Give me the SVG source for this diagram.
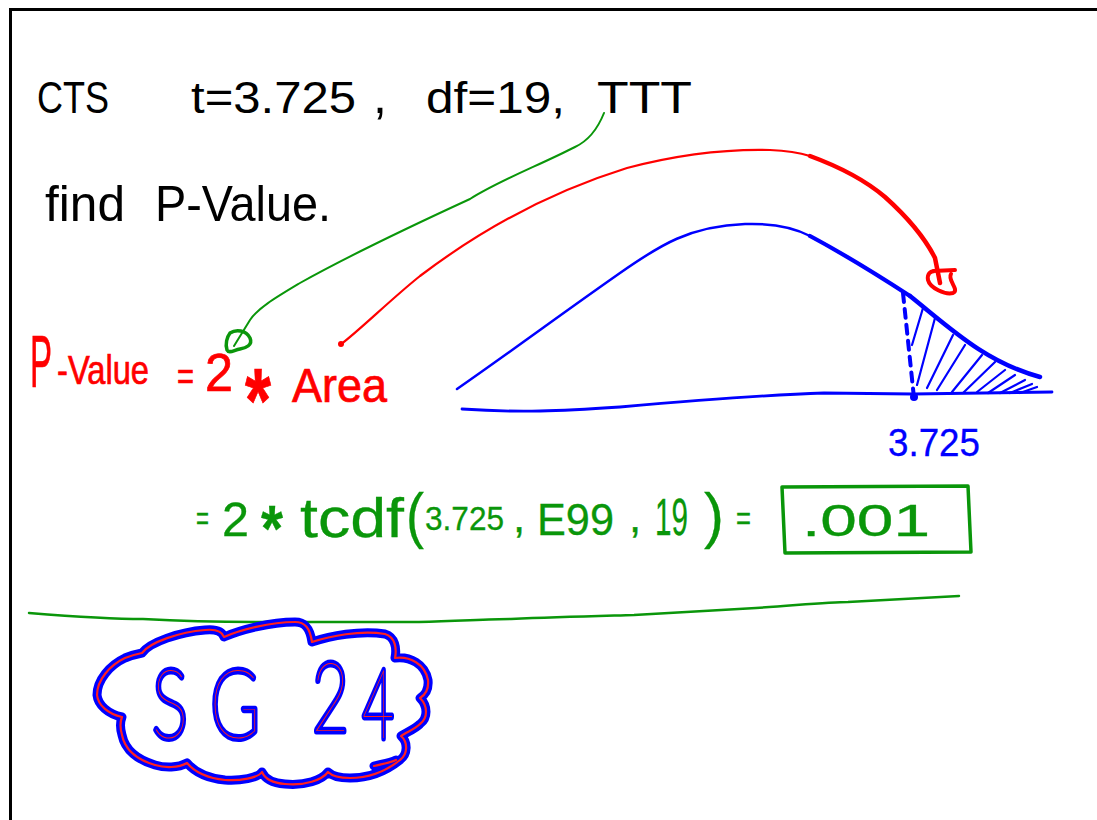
<svg xmlns="http://www.w3.org/2000/svg" width="1097" height="820" viewBox="0 0 1097 820">
<defs>
<style>
.blk{font-family:"Liberation Sans",Arial,sans-serif;fill:#000}
.red{font-family:"Liberation Sans",Arial,sans-serif;fill:#ff0000;stroke:#ff0000;stroke-width:0.7}
.grn{font-family:"Liberation Sans",Arial,sans-serif;fill:#0a960a;stroke:#0a960a;stroke-width:0.3}
.blu{font-family:"Liberation Sans",Arial,sans-serif;fill:#0000ff;stroke:#0000ff;stroke-width:0.3}
.sg{font-family:Lato,"Open Sans",sans-serif;font-weight:100;fill:#ff2020;stroke:#0000ff;stroke-width:7;paint-order:stroke;stroke-linejoin:round}
.ln{fill:none;stroke-linecap:round;stroke-linejoin:round}
.cloudOuter{fill:none;stroke:#0000ff;stroke-width:9;stroke-linecap:round;stroke-linejoin:round}
.cloudInner{fill:none;stroke:#ff2020;stroke-width:2.2;stroke-linecap:round;stroke-linejoin:round}
</style>
<path id="cloudPath" d="M142,653 C150,642 180,632 205,630 C215,629 222,631 224,637 C240,630 270,622 295,622 C305,622 310,628 312,642 C330,636 360,630 385,634 C395,637 397,648 395,658 C410,656 425,664 428,680 C429,690 425,695 420,698 C428,706 428,718 420,724 C414,730 406,732 401,736 C408,742 408,754 400,760 C385,772 370,778 350,778 C340,778 332,776 328,772 C322,780 305,786 285,784 C272,783 265,779 262,772 C258,778 240,781 225,780 C205,778 193,770 187,763 C178,768 165,768 155,765 C138,760 125,750 122,735 C120,728 120,722 122,717 C108,714 98,705 97,695 C97,680 110,665 125,658 C132,655 137,654 142,653 Z M374,766 C382,764 390,763 396,760"/>
</defs>
<rect x="0" y="0" width="1097" height="820" fill="#ffffff"/>
<path d="M10.5,820 V9.5 H1097" fill="none" stroke="#000" stroke-width="3"/>

<g id="problem">
<text class="blk" x="37" y="113" font-size="44" textLength="72" lengthAdjust="spacingAndGlyphs">CTS</text>
<text class="blk" x="191" y="113" font-size="44" textLength="165" lengthAdjust="spacingAndGlyphs">t=3.725</text>
<text class="blk" x="373" y="113" font-size="50">,</text>
<text class="blk" x="426" y="113" font-size="44" textLength="139" lengthAdjust="spacingAndGlyphs">df=19,</text>
<text class="blk" x="597" y="113" font-size="44" textLength="95" lengthAdjust="spacingAndGlyphs">TTT</text>
<text class="blk" x="45" y="221" font-size="50" textLength="80" lengthAdjust="spacingAndGlyphs">find</text>
<text class="blk" x="155" y="221" font-size="50" textLength="176" lengthAdjust="spacingAndGlyphs">P-Value.</text>
</g>

<g id="pvalue-formula">
<text class="red" y="387"><tspan x="30" font-size="74" textLength="22" lengthAdjust="spacingAndGlyphs">P</tspan><tspan x="57" y="384" font-size="40" textLength="92" lengthAdjust="spacingAndGlyphs">-Value</tspan></text>
<text class="red" x="177" y="390" font-size="40" textLength="17" lengthAdjust="spacingAndGlyphs">=</text>
<text class="red" x="205" y="391" font-size="54" textLength="28" lengthAdjust="spacingAndGlyphs">2</text>
<text class="red" x="245" y="432" font-size="90" font-weight="bold" textLength="26" lengthAdjust="spacingAndGlyphs">*</text>
<text class="red" x="292" y="402" font-size="48" textLength="95" lengthAdjust="spacingAndGlyphs">Area</text>
</g>

<g id="t-curve">
<path class="ln" d="M457,389 C520,345 560,315 620,273 C660,245 690,226 745,224 C775,223 795,228 810,236" stroke="#0000ff" stroke-width="2.5"/>
<path class="ln" d="M810,236 C840,252 870,270 910,296" stroke="#0000ff" stroke-width="4.2"/>
<path class="ln" d="M910,296 C950,328 985,362 1040,377" stroke="#0000ff" stroke-width="4.5"/>
<path class="ln" d="M462,409 C520,413 560,411 620,407 C700,400 760,395 824,393 L913,394 L1052,392" stroke="#0000ff" stroke-width="2.8"/>
<path class="ln" d="M903,293 L914,398" stroke="#0000ff" stroke-width="4" stroke-dasharray="9 7"/>
<circle cx="914" cy="397" r="4" fill="#0000ff"/>
<path class="ln" stroke="#0000ff" stroke-width="2.2" d="M912,345 L923,308 M917,385 L935,318 M927,388 L953,335 M937,390 L965,345 M952,392 L982,355 M963,393 L995,362 M977,392 L1005,370 M988,393 L1015,375 M1000,393 L1025,380 M1010,393 L1032,384 M1020,393 L1037,387"/>
<text class="blu" x="888" y="456" font-size="38" textLength="92" lengthAdjust="spacingAndGlyphs">3.725</text>
</g>

<g id="tcdf-formula">
<text class="grn" x="196" y="530" font-size="34" textLength="13" lengthAdjust="spacingAndGlyphs">=</text>
<text class="grn" x="222" y="536" font-size="48" textLength="27" lengthAdjust="spacingAndGlyphs">2</text>
<text class="grn" x="261" y="551" font-size="64" font-weight="bold" textLength="22" lengthAdjust="spacingAndGlyphs">*</text>
<text class="grn" x="300" y="537" font-size="56" textLength="104" lengthAdjust="spacingAndGlyphs">tcdf</text>
<text class="grn" x="406" y="536" font-size="62" textLength="18" lengthAdjust="spacingAndGlyphs">(</text>
<text class="grn" x="425" y="530" font-size="34" textLength="79" lengthAdjust="spacingAndGlyphs">3.725</text>
<text class="grn" x="513" y="532" font-size="44">,</text>
<text class="grn" x="537" y="535" font-size="44" textLength="77" lengthAdjust="spacingAndGlyphs">E99</text>
<text class="grn" x="629" y="532" font-size="44">,</text>
<text class="grn" y="535"><tspan x="655" font-size="52" textLength="33" lengthAdjust="spacingAndGlyphs">19</tspan><tspan x="704" y="536" font-size="62" textLength="20" lengthAdjust="spacingAndGlyphs">)</tspan></text>
<text class="grn" x="736" y="530" font-size="34" textLength="15" lengthAdjust="spacingAndGlyphs">=</text>
</g>

<g id="answer">
<path class="ln" d="M782,487 L968,486 L971,552 L785,553 Z" stroke="#0a960a" stroke-width="3.5"/>
<text class="grn" x="802" y="536" font-size="44" textLength="128" lengthAdjust="spacingAndGlyphs">.001</text>
</g>

<g id="divider">
<path class="ln" d="M29,613 C80,617 120,619 143,619 C200,622 240,622 265,622 L419,622 C460,621 490,619 511,619 C560,617 600,616 634,615 C680,612 720,610 756,608 C800,605 830,602 848,602 L959,596" stroke="#0a960a" stroke-width="2.5"/>
</g>

<g id="sg24-cloud">
<use href="#cloudPath" class="cloudOuter"/>
<use href="#cloudPath" class="cloudInner"/>
<text class="sg" x="152" y="738" font-size="97" textLength="36" lengthAdjust="spacingAndGlyphs">S</text>
<text class="sg" x="210" y="738" font-size="97" textLength="50" lengthAdjust="spacingAndGlyphs">G</text>
<text class="sg" y="731" font-size="97"><tspan x="312" textLength="37" lengthAdjust="spacingAndGlyphs">2</tspan><tspan x="362" y="738" textLength="32" lengthAdjust="spacingAndGlyphs">4</tspan></text>
</g>

<g id="connectors">
<path class="ln" d="M604,113 C598,128 590,140 575,147 C540,165 500,180 470,199 C420,222 350,255 300,283 C275,298 258,308 250,320 L234,346" stroke="#0a960a" stroke-width="2"/>
<path class="ln" d="M230,333 C236,329 246,330 250,338 C253,345 246,348 240,349 C234,350 229,354 227,350 C225,344 227,337 230,333 Z" stroke="#0a960a" stroke-width="3.5"/>
<path class="ln" d="M340,345 C360,330 390,300 420,276 C470,238 540,195 627,168 C680,154 730,149 770,150 C790,151 800,153 810,156" stroke="#ff0000" stroke-width="2.2"/>
<path class="ln" d="M810,156 C840,167 865,180 885,197 C905,215 925,238 935,258 L940,283" stroke="#ff0000" stroke-width="4.5"/>
<circle cx="341" cy="344" r="3" fill="#ff0000"/>
<path class="ln" d="M933,271 L955,270 M951,274 C947,280 960,290 953,293 C945,295 930,288 928,280 C927,274 930,271 935,271" stroke="#ff0000" stroke-width="4"/>
</g>
</svg>
